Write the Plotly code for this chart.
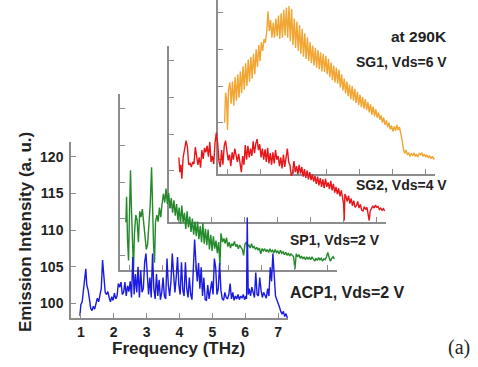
import plotly.graph_objects as go

# ---------------- data (frequency THz, emission intensity a.u.) ----------------
acp1 = [(0.97, 98.3), (1.00, 99.8), (1.04, 100.2), (1.08, 101.8), (1.12, 103.5), (1.15, 104.7),
        (1.18, 102.5), (1.22, 101.8), (1.26, 100.6), (1.30, 99.3), (1.34, 99.0), (1.38, 99.6),
        (1.42, 99.2), (1.46, 100.0), (1.50, 100.7), (1.54, 100.2), (1.58, 101.2), (1.62, 102.0),
        (1.66, 105.9), (1.70, 103.6), (1.74, 101.5), (1.78, 101.2), (1.82, 101.6), (1.86, 100.8),
        (1.90, 100.2), (1.94, 100.9), (1.98, 100.4), (2.02, 101.4), (2.06, 100.6), (2.10, 101.0),
        (2.14, 102.7), (2.18, 102.2), (2.22, 102.9), (2.26, 101.2), (2.30, 101.5), (2.34, 102.9),
        (2.38, 101.0), (2.42, 102.4), (2.46, 101.6), (2.50, 103.0), (2.54, 100.8), (2.58, 106.3),
        (2.62, 101.2), (2.66, 104.0), (2.70, 101.5), (2.74, 105.0), (2.78, 100.8), (2.82, 104.5),
        (2.86, 101.5), (2.90, 102.0), (2.94, 105.6), (2.98, 106.8), (3.02, 103.0), (3.06, 101.2),
        (3.10, 103.5), (3.14, 100.8), (3.18, 106.8), (3.22, 102.0), (3.26, 100.6), (3.30, 104.0),
        (3.34, 101.0), (3.38, 103.2), (3.42, 100.5), (3.46, 101.5), (3.50, 103.5), (3.54, 101.0),
        (3.58, 100.6), (3.62, 106.1), (3.66, 102.5), (3.70, 101.0), (3.74, 103.0), (3.78, 106.8),
        (3.82, 104.0), (3.86, 101.5), (3.90, 103.5), (3.94, 106.3), (3.98, 102.5), (4.02, 101.2),
        (4.06, 105.6), (4.10, 101.8), (4.14, 101.0), (4.18, 105.6), (4.22, 102.0), (4.26, 100.8),
        (4.30, 103.5), (4.34, 101.2), (4.38, 100.5), (4.42, 104.2), (4.46, 108.7), (4.50, 105.5),
        (4.54, 103.0), (4.58, 105.5), (4.62, 102.0), (4.66, 104.9), (4.70, 101.0), (4.74, 103.5),
        (4.78, 100.5), (4.82, 100.4), (4.86, 102.5), (4.90, 100.6), (4.94, 101.8), (4.98, 103.0),
        (5.02, 101.2), (5.06, 106.1), (5.10, 104.9), (5.14, 101.2), (5.18, 102.0), (5.22, 105.5),
        (5.26, 101.8), (5.30, 100.6), (5.34, 100.4), (5.38, 101.5), (5.42, 100.8), (5.46, 100.6),
        (5.50, 101.2), (5.54, 102.7), (5.58, 100.6), (5.62, 101.5), (5.66, 100.4), (5.70, 101.0),
        (5.74, 100.6), (5.78, 101.2), (5.82, 100.5), (5.86, 101.0), (5.90, 100.7), (5.94, 101.2),
        (5.98, 100.5), (6.02, 101.0), (6.04, 100.6), (6.06, 111.7), (6.09, 101.2), (6.12, 102.0),
        (6.16, 101.0), (6.20, 102.2), (6.24, 101.5), (6.28, 100.8), (6.32, 104.2), (6.36, 101.2),
        (6.40, 101.0), (6.44, 103.5), (6.48, 101.8), (6.52, 100.8), (6.56, 101.5), (6.60, 101.2),
        (6.64, 100.7), (6.68, 102.0), (6.72, 101.0), (6.76, 104.9), (6.80, 103.0), (6.84, 106.8),
        (6.88, 103.5), (6.92, 101.0), (6.96, 100.5), (7.00, 99.8), (7.04, 99.5), (7.08, 98.9),
        (7.12, 98.5), (7.16, 98.9), (7.20, 98.2), (7.24, 98.6), (7.28, 98.0)]

sp1 = [(0.88, 104.5), (0.90, 108.0), (0.93, 102.0), (0.96, 99.3), (0.99, 106.0), (1.02, 111.6),
       (1.05, 106.0), (1.08, 100.3), (1.11, 98.0), (1.14, 103.0), (1.18, 105.5), (1.22, 104.8),
       (1.26, 101.8), (1.30, 106.0), (1.34, 105.2), (1.38, 106.3), (1.42, 104.2), (1.46, 103.0),
       (1.50, 100.8), (1.54, 101.5), (1.58, 104.0), (1.62, 107.0), (1.66, 112.0), (1.69, 106.0),
       (1.72, 101.6), (1.75, 99.0), (1.78, 104.5), (1.82, 105.5), (1.86, 104.6), (1.90, 106.5),
       (1.94, 105.2), (1.98, 107.0), (2.02, 108.4), (2.06, 107.2), (2.10, 109.1), (2.14, 107.0),
       (2.18, 108.5), (2.22, 106.4), (2.26, 107.8), (2.30, 105.8), (2.34, 107.5), (2.38, 105.4),
       (2.42, 107.0), (2.46, 104.8), (2.50, 106.5), (2.54, 104.3), (2.58, 106.8), (2.62, 104.5),
       (2.66, 105.8), (2.70, 103.6), (2.74, 106.0), (2.78, 103.8), (2.82, 105.3), (2.86, 103.2),
       (2.90, 105.0), (2.94, 102.8), (2.98, 104.6), (3.02, 102.6), (3.06, 104.6), (3.10, 102.2),
       (3.14, 104.0), (3.18, 101.8), (3.22, 104.4), (3.26, 101.6), (3.30, 103.6), (3.34, 101.4),
       (3.38, 103.5), (3.42, 100.8), (3.46, 102.8), (3.50, 100.6), (3.54, 102.6), (3.58, 100.9),
       (3.62, 102.0), (3.66, 100.3), (3.70, 101.8), (3.74, 98.6), (3.77, 103.0), (3.82, 101.8),
       (3.86, 102.3), (3.90, 101.6), (3.94, 102.4), (3.98, 101.2), (4.02, 101.8), (4.06, 101.0),
       (4.10, 101.6), (4.14, 101.3), (4.18, 101.9), (4.22, 101.2), (4.26, 101.5), (4.30, 100.9),
       (4.34, 101.4), (4.38, 101.1), (4.42, 100.8), (4.46, 100.0), (4.50, 101.5), (4.54, 101.8),
       (4.58, 101.2), (4.62, 101.4), (4.66, 101.0), (4.70, 101.6), (4.74, 101.0), (4.78, 101.2),
       (4.82, 100.8), (4.86, 101.1), (4.90, 100.7), (4.94, 101.0), (4.98, 100.2), (5.02, 100.9),
       (5.06, 100.6), (5.10, 100.9), (5.14, 100.5), (5.18, 100.8), (5.22, 100.4), (5.26, 100.9),
       (5.30, 100.5), (5.34, 100.7), (5.38, 100.3), (5.42, 100.8), (5.46, 100.4), (5.50, 100.6),
       (5.54, 100.2), (5.58, 100.7), (5.62, 100.3), (5.66, 100.5), (5.70, 100.1), (5.74, 100.4),
       (5.78, 100.0), (5.82, 100.3), (5.86, 99.9), (5.90, 100.2), (5.94, 100.0), (5.98, 99.8),
       (6.02, 98.1), (6.06, 100.2), (6.10, 99.8), (6.14, 100.1), (6.18, 99.6), (6.22, 99.9),
       (6.26, 99.5), (6.30, 99.8), (6.34, 99.4), (6.38, 99.8), (6.42, 99.5), (6.46, 99.7),
       (6.50, 99.4), (6.54, 99.8), (6.58, 99.5), (6.62, 99.2), (6.66, 99.6), (6.70, 99.3),
       (6.74, 99.7), (6.78, 99.4), (6.82, 99.6), (6.86, 99.2), (6.90, 99.5), (6.94, 99.4),
       (6.98, 99.8), (7.02, 100.4), (7.06, 99.7), (7.10, 99.2), (7.14, 99.6), (7.18, 99.8),
       (7.22, 99.5)]

sg2 = [(1.00, 106.8), (1.03, 104.8), (1.06, 105.8), (1.09, 103.9), (1.13, 106.8), (1.18, 108.0),
       (1.22, 109.1), (1.26, 108.2), (1.30, 105.8), (1.34, 106.0), (1.38, 105.5), (1.42, 106.2),
       (1.46, 105.9), (1.50, 108.2), (1.54, 107.2), (1.58, 105.8), (1.62, 106.8), (1.66, 105.4),
       (1.70, 107.8), (1.74, 106.6), (1.78, 108.1), (1.82, 107.5), (1.86, 108.4), (1.90, 106.9),
       (1.94, 108.9), (1.98, 106.2), (2.02, 107.0), (2.06, 105.9), (2.10, 108.8), (2.14, 110.2),
       (2.18, 108.8), (2.22, 106.3), (2.26, 105.5), (2.30, 107.8), (2.34, 105.8), (2.38, 108.4),
       (2.42, 109.1), (2.46, 107.8), (2.50, 106.4), (2.54, 107.2), (2.58, 105.6), (2.62, 107.5),
       (2.66, 106.5), (2.70, 108.0), (2.74, 107.0), (2.78, 106.2), (2.82, 107.3), (2.86, 105.6),
       (2.90, 104.8), (2.94, 107.0), (2.98, 105.8), (3.02, 108.5), (3.06, 106.5), (3.10, 108.4),
       (3.14, 106.8), (3.18, 108.0), (3.22, 107.0), (3.26, 109.0), (3.30, 107.4), (3.34, 108.7),
       (3.38, 109.3), (3.42, 107.8), (3.46, 108.6), (3.50, 106.8), (3.54, 108.0), (3.58, 106.5),
       (3.62, 107.9), (3.66, 106.2), (3.70, 108.1), (3.74, 106.0), (3.78, 107.4), (3.82, 105.8),
       (3.86, 107.5), (3.90, 106.0), (3.94, 107.8), (3.98, 106.5), (4.02, 107.0), (4.06, 105.6),
       (4.10, 106.8), (4.14, 105.3), (4.18, 107.2), (4.22, 105.5), (4.26, 106.9), (4.30, 108.0),
       (4.34, 106.2), (4.38, 105.7), (4.42, 104.3), (4.46, 104.8), (4.50, 106.3), (4.54, 104.8),
       (4.58, 105.6), (4.62, 104.5), (4.66, 105.8), (4.70, 104.6), (4.74, 105.5), (4.78, 104.2),
       (4.82, 105.2), (4.86, 104.0), (4.90, 105.0), (4.94, 103.8), (4.98, 104.8), (5.02, 103.7),
       (5.06, 104.5), (5.10, 103.5), (5.14, 104.3), (5.18, 103.2), (5.22, 104.2), (5.26, 103.0),
       (5.30, 104.0), (5.34, 102.8), (5.38, 103.8), (5.42, 102.6), (5.46, 103.9), (5.50, 102.8),
       (5.54, 103.4), (5.58, 102.5), (5.62, 103.6), (5.66, 102.3), (5.70, 103.2), (5.74, 102.0),
       (5.78, 102.8), (5.82, 101.8), (5.86, 102.6), (5.90, 101.5), (5.94, 102.3), (5.98, 101.2),
       (6.01, 100.5), (6.03, 98.2), (6.05, 101.8), (6.08, 101.5), (6.12, 100.8), (6.16, 101.6),
       (6.20, 100.5), (6.24, 101.2), (6.28, 100.2), (6.32, 100.9), (6.36, 100.0), (6.40, 100.2),
       (6.44, 100.8), (6.48, 99.9), (6.52, 100.4), (6.56, 99.6), (6.60, 99.5), (6.64, 100.1),
       (6.68, 99.7), (6.72, 100.0), (6.76, 99.2), (6.79, 98.2), (6.82, 99.5), (6.86, 99.8),
       (6.90, 100.2), (6.94, 99.9), (6.98, 100.3), (7.02, 100.0), (7.06, 100.1), (7.10, 99.7),
       (7.14, 99.9), (7.18, 99.6), (7.22, 99.8), (7.26, 99.5)]

sg1 = [(0.90, 105.0), (0.93, 109.1), (0.96, 108.3), (0.99, 104.0), (1.02, 109.5), (1.06, 110.5),
       (1.10, 107.6), (1.14, 110.6), (1.18, 107.3), (1.22, 111.2), (1.26, 108.0), (1.30, 111.6),
       (1.34, 108.4), (1.38, 112.0), (1.42, 109.0), (1.46, 112.7), (1.50, 109.5), (1.54, 113.1),
       (1.58, 110.0), (1.62, 113.6), (1.66, 110.6), (1.70, 114.0), (1.74, 111.0), (1.78, 114.4),
       (1.82, 111.6), (1.86, 115.0), (1.90, 112.6), (1.94, 115.6), (1.98, 113.4), (2.02, 116.0),
       (2.06, 114.8), (2.10, 116.4), (2.14, 115.9), (2.18, 117.3), (2.22, 120.2), (2.26, 117.5),
       (2.30, 119.0), (2.34, 116.6), (2.38, 118.6), (2.42, 116.6), (2.46, 119.2), (2.50, 116.8),
       (2.54, 119.6), (2.58, 116.4), (2.62, 119.9), (2.66, 116.6), (2.70, 120.4), (2.74, 116.9),
       (2.78, 120.7), (2.82, 116.6), (2.86, 120.9), (2.90, 116.1), (2.94, 120.5), (2.98, 115.6),
       (3.02, 119.2), (3.06, 115.2), (3.10, 118.8), (3.14, 114.8), (3.18, 118.3), (3.22, 114.4),
       (3.26, 117.8), (3.30, 114.0), (3.34, 117.2), (3.38, 113.7), (3.42, 116.6), (3.46, 113.4),
       (3.50, 116.0), (3.54, 113.1), (3.58, 115.5), (3.62, 112.8), (3.66, 115.2), (3.70, 112.5),
       (3.74, 114.9), (3.78, 112.3), (3.82, 114.6), (3.86, 112.0), (3.90, 114.4), (3.94, 111.9),
       (3.98, 114.1), (4.02, 111.6), (4.06, 113.7), (4.10, 111.2), (4.14, 113.2), (4.18, 110.8),
       (4.22, 112.8), (4.26, 110.5), (4.30, 112.5), (4.34, 110.3), (4.38, 112.2), (4.42, 109.8),
       (4.46, 111.6), (4.50, 109.4), (4.54, 111.0), (4.58, 109.0), (4.62, 110.6), (4.66, 108.6),
       (4.70, 110.2), (4.74, 108.2), (4.78, 110.0), (4.82, 108.0), (4.86, 109.6), (4.90, 107.7),
       (4.94, 109.2), (4.98, 107.4), (5.02, 108.8), (5.06, 107.1), (5.10, 108.5), (5.14, 106.9),
       (5.18, 108.2), (5.22, 106.7), (5.26, 107.8), (5.30, 106.4), (5.34, 107.5), (5.38, 106.1),
       (5.42, 107.2), (5.46, 105.9), (5.50, 106.8), (5.54, 105.7), (5.58, 106.4), (5.62, 105.4),
       (5.66, 106.0), (5.70, 105.0), (5.74, 105.7), (5.78, 104.7), (5.82, 105.3), (5.86, 104.4),
       (5.90, 105.0), (5.94, 104.1), (5.98, 104.6), (6.02, 103.8), (6.06, 104.5), (6.10, 103.9),
       (6.14, 104.7), (6.18, 104.0), (6.22, 104.4), (6.26, 103.6), (6.30, 102.6), (6.34, 101.4),
       (6.38, 100.8), (6.42, 101.3), (6.46, 100.6), (6.50, 100.9), (6.54, 100.4), (6.58, 100.8),
       (6.62, 100.5), (6.66, 100.9), (6.70, 100.4), (6.74, 100.7), (6.78, 100.3), (6.82, 100.8),
       (6.86, 100.6), (6.90, 100.9), (6.94, 100.4), (6.98, 100.7), (7.02, 100.3), (7.06, 100.6),
       (7.10, 100.2), (7.14, 100.5), (7.18, 100.1), (7.22, 100.4), (7.26, 100.0), (7.28, 100.2)]

x_ticks = [1, 2, 3, 4, 5, 6, 7]
y_ticks = [100, 105, 110, 115, 120]
labels = ["ACP1, Vds=2 V", "SP1, Vds=2 V", "SG2, Vds=4 V", "SG1, Vds=6 V"]

# ---------------- figure ----------------
W, H = 478, 367
FONT = "Liberation Sans, Arial, Helvetica, sans-serif"
AX = "#8c8c8c"
TXT = "#222222"
XR = [0.7, 7.3]
YR = [98, 122]
PX_X0, PX_X1 = 71, 288      # front axes box (pixels)
PY_Y0, PY_Y1 = 318, 142
DX, DY = 49, -48            # waterfall offset per layer

# back-to-front: (data, colour, layer index)
layers = [(sg1, "#f2a531", 3), (sg2, "#e8161b", 2), (sp1, "#23892a", 1), (acp1, "#1a1ae0", 0)]

fig = go.Figure()
layout = {}
for i, (data, color, k) in enumerate(layers):
    n = "" if i == 0 else str(i + 1)
    x0 = (PX_X0 + DX * k) / W
    x1 = (PX_X1 + DX * k) / W
    bot_px = PY_Y0 + DY * k
    top_px = PY_Y1 + DY * k
    ytop = YR[1]
    if top_px < 0:
        ytop = YR[0] + (YR[1] - YR[0]) * bot_px / (PY_Y0 - PY_Y1)
        top_px = 0
    y0 = (H - bot_px) / H
    y1 = (H - top_px) / H
    front = (k == 0)
    fig.add_trace(go.Scatter(x=[p[0] for p in data], y=[p[1] for p in data],
                             mode="lines", line=dict(color=color, width=1.4),
                             xaxis="x" + n, yaxis="y" + n, showlegend=False,
                             hoverinfo="skip"))
    common = dict(showgrid=False, zeroline=False, showline=True, linecolor=AX, linewidth=1.5,
                  ticks="inside", ticklen=5, tickwidth=1.2, tickcolor=AX,
                  showticklabels=front,
                  tickfont=dict(family=FONT, size=14, color=TXT, weight="bold"))
    layout["xaxis" + n] = dict(common, domain=[x0, x1], range=XR, tickvals=x_ticks,
                               anchor="y" + n, ticklabelstandoff=0)
    layout["yaxis" + n] = dict(common, domain=[y0, y1], range=[YR[0], ytop], tickvals=y_ticks,
                               anchor="x" + n, ticklabelstandoff=3)

def ann(text, px, py, size, xanchor="center", bold=True, family=FONT, angle=0):
    return dict(text=text, x=px / W, y=1 - py / H, xref="paper", yref="paper",
                xanchor=xanchor, yanchor="middle", showarrow=False, textangle=angle,
                font=dict(family=family, size=size, color=TXT, weight="bold" if bold else "normal"))

annotations = [
    ann("at 290K", 449, 36, 15.5, "right"),
    ann(labels[3], 449, 62, 14, "right"),
    ann(labels[2], 449, 185, 14, "right"),
    ann(labels[1], 288, 240, 14, "left"),
    ann(labels[0], 288, 292, 16, "left"),
    ann("Frequency (THz)", 178, 348, 17),
    ann("Emission Intensity (a. u.)", 25, 232, 17, angle=-90),
    ann("(a)", 459, 347, 20, bold=False, family="Liberation Serif, Times New Roman, serif"),
]

fig.update_layout(width=W, height=H, margin=dict(l=0, r=0, t=0, b=0),
                  paper_bgcolor="white", plot_bgcolor="rgba(0,0,0,0)",
                  annotations=annotations, **layout)
fig.write_html("out.html")
